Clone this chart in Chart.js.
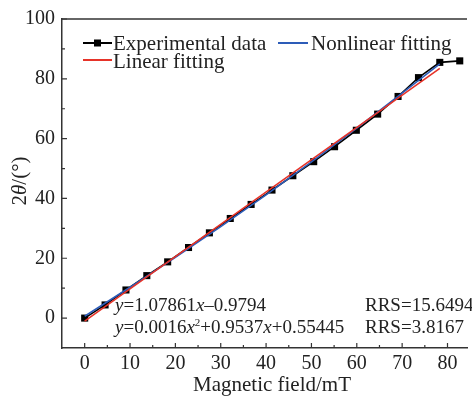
<!DOCTYPE html>
<html>
<head>
<meta charset="utf-8">
<script src="https://cdn.jsdelivr.net/npm/chart.js@4"></script>
<style>
  html, body { margin: 0; padding: 0; background: #fff; }
  #wrap { width: 472px; height: 400px; }
</style>
</head>
<body>
<div id="wrap"><canvas id="chart" width="472" height="400"></canvas></div>
<script>
// values
const fieldMT = [0, 4.5, 9.1, 13.7, 18.3, 22.9, 27.5, 32.1, 36.7, 41.3, 45.9, 50.5, 55.1, 59.9, 64.6, 69.1, 73.6, 78.3, 82.7];
const twoTheta = [0, 4.4, 9.4, 14.2, 18.8, 23.6, 28.5, 33.3, 38.0, 42.8, 47.6, 52.3, 57.3, 62.8, 68.2, 74.1, 80.4, 85.5, 86.0];
const linearX = [0, 78.3];
const linearY = [-1.0, 83.5];
const nonlinX = [0, 10, 20, 30, 40, 50, 60, 70, 78.3];
const nonlinY = [0.6, 10.3, 20.3, 30.6, 41.2, 52.2, 63.5, 75.2, 85.0];
const xTicks = [0, 10, 20, 30, 40, 50, 60, 70, 80];
const yTicks = [0, 20, 40, 60, 80, 100];

const serif = '"Liberation Serif", "Times New Roman", serif';
const ink = '#222';
const blue = '#2d5cb8';
const red = '#e63329';

function pts(xs, ys) {
    return xs.map((x, i) => ({ x: x, y: ys[i] }));
}

// draws text pieces one after another: [text, italic, superscript]
function drawRich(ctx, parts, x, y, size) {
    parts.forEach(function (p) {
        let fs = p[2] ? Math.round(size * 0.6) : size;
        ctx.font = (p[1] ? 'italic ' : '') + fs + 'px ' + serif;
        ctx.fillText(p[0], x, p[2] ? y - size * 0.38 : y);
        x += ctx.measureText(p[0]).width;
    });
}

const extras = {
    id: 'extras',
    afterDraw: function (chart) {
        const ctx = chart.ctx;
        const a = chart.chartArea;
        const xs = chart.scales.x, ys = chart.scales.y;
        ctx.save();

        // top frame line
        ctx.strokeStyle = '#333';
        ctx.lineWidth = 1.5;
        ctx.beginPath();
        ctx.moveTo(a.left, a.top);
        ctx.lineTo(a.right, a.top);
        ctx.stroke();

        // inward ticks
        ctx.lineWidth = 1.2;
        ctx.beginPath();
        for (let v = 0; v <= 80; v += 5) {
            let px = xs.getPixelForValue(v);
            let len = v % 10 === 0 ? 5 : 3;
            ctx.moveTo(px, a.bottom);
            ctx.lineTo(px, a.bottom - len);
        }
        for (let v = 0; v <= 100; v += 10) {
            let py = ys.getPixelForValue(v);
            let len = v % 20 === 0 ? 5 : 3;
            ctx.moveTo(a.left, py);
            ctx.lineTo(a.left + len, py);
        }
        ctx.stroke();

        // legend
        ctx.fillStyle = ink;
        ctx.textBaseline = 'alphabetic';
        ctx.textAlign = 'left';
        ctx.font = '21px ' + serif;
        ctx.lineWidth = 2;
        ctx.strokeStyle = '#000';
        ctx.beginPath(); ctx.moveTo(83, 43); ctx.lineTo(112, 43); ctx.stroke();
        ctx.fillStyle = '#000';
        ctx.fillRect(94, 39.5, 7, 7);
        ctx.fillStyle = ink;
        ctx.fillText('Experimental data', 113, 50);
        ctx.strokeStyle = blue;
        ctx.beginPath(); ctx.moveTo(278, 43); ctx.lineTo(308, 43); ctx.stroke();
        ctx.fillText('Nonlinear fitting', 311, 50);
        ctx.strokeStyle = red;
        ctx.beginPath(); ctx.moveTo(83, 60); ctx.lineTo(112, 60); ctx.stroke();
        ctx.fillText('Linear fitting', 113, 68);

        // fit equations
        drawRich(ctx, [['y', true], ['=1.07861', false], ['x', true], ['\u20130.9794', false]], 115, 311, 19);
        drawRich(ctx, [['y', true], ['=0.0016', false], ['x', true], ['2', false, true], ['+0.9537', false], ['x', true], ['+0.55445', false]], 115, 333, 19);
        ctx.font = '19px ' + serif;
        ctx.fillText('RRS=15.6494', 365, 311);
        ctx.fillText('RRS=3.8167', 365, 333);

        // axis titles
        ctx.font = '21px ' + serif;
        ctx.textAlign = 'center';
        ctx.fillText('Magnetic field/mT', 272, 391);
        ctx.translate(26, 181);
        ctx.rotate(-Math.PI / 2);
        ctx.textAlign = 'left';
        let w = 0;
        ctx.font = '21px ' + serif; w += ctx.measureText('2').width;
        ctx.font = 'italic 21px ' + serif; w += ctx.measureText('\u03b8').width;
        ctx.font = '21px ' + serif; w += ctx.measureText('/(\u00b0)').width;
        drawRich(ctx, [['2', false], ['\u03b8', true], ['/(\u00b0)', false]], -w / 2, 0, 21);
        ctx.restore();
    }
};

new Chart(document.getElementById('chart'), {
    type: 'line',
    data: {
        datasets: [
            {
                label: 'Experimental data',
                data: pts(fieldMT, twoTheta),
                borderColor: '#000',
                backgroundColor: '#000',
                borderWidth: 1.6,
                pointStyle: 'rect',
                pointRadius: 5,
                pointBorderWidth: 0,
                order: 2
            },
            {
                label: 'Nonlinear fitting',
                data: pts(nonlinX, nonlinY),
                borderColor: blue,
                borderWidth: 1.6,
                pointRadius: 0,
                order: 1
            },
            {
                label: 'Linear fitting',
                data: pts(linearX, linearY),
                borderColor: red,
                borderWidth: 1.6,
                pointRadius: 0,
                order: 0
            }
        ]
    },
    options: {
        responsive: false,
        animation: false,
        layout: { padding: { top: 15, right: 0, left: 0, bottom: 0 } },
        plugins: { legend: { display: false }, tooltip: { enabled: false } },
        elements: { line: { tension: 0 } },
        scales: {
            x: {
                type: 'linear',
                min: -5,
                max: 84.3,
                afterBuildTicks: s => { s.ticks = xTicks.map(v => ({ value: v })); },
                afterFit: s => { s.height = 52; },
                grid: { display: false, drawTicks: false },
                border: { display: true, color: '#333', width: 1.5 },
                ticks: { padding: 4, color: ink, font: { family: serif, size: 20 }, maxRotation: 0 }
            },
            y: {
                type: 'linear',
                min: -10,
                max: 100,
                afterBuildTicks: s => { s.ticks = yTicks.map(v => ({ value: v })); },
                afterFit: s => { s.width = 62; },
                grid: { display: false, drawTicks: false },
                border: { display: true, color: '#333', width: 1.5 },
                ticks: { padding: 7, color: ink, font: { family: serif, size: 20 } }
            }
        }
    },
    plugins: [extras]
});
</script>
</body>
</html>
